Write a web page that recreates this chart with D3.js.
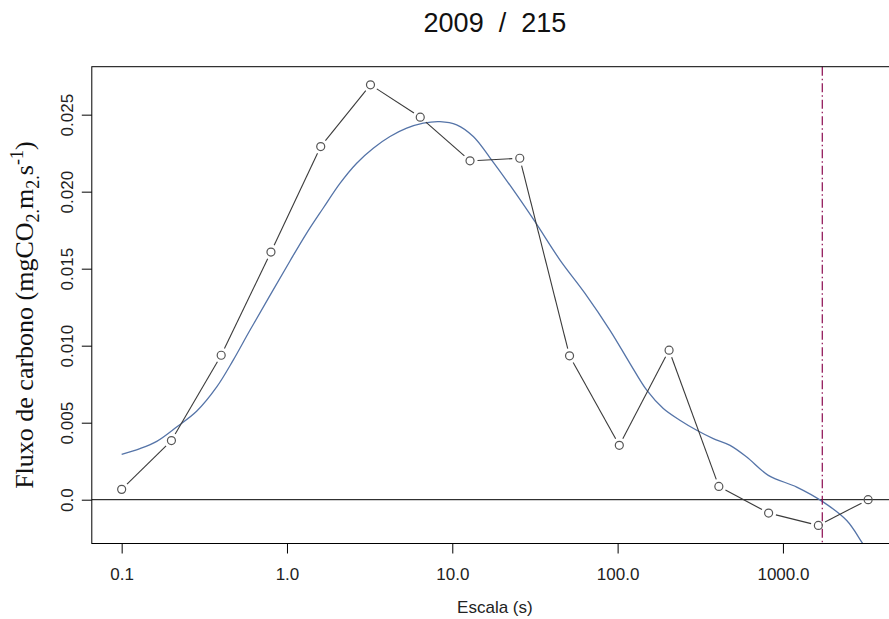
<!DOCTYPE html>
<html>
<head>
<meta charset="utf-8">
<script src="https://cdn.jsdelivr.net/npm/d3@7"></script>
<style>
  html, body { margin: 0; padding: 0; background: #fff; }
  svg { display: block; }
  text { font-family: "Liberation Sans", Arial, sans-serif; }
</style>
</head>
<body>
<svg id="chart" width="889" height="619"></svg>
<script>
// ---- data ----
const scales = [0.1, 0.2, 0.4, 0.8, 1.6, 3.2, 6.4, 12.8, 25.6, 51.2, 102.4, 204.8, 409.6, 819.2, 1638.4, 3276.8];
const fluxValues = [0.00067, 0.00384, 0.00938, 0.01608, 0.02293, 0.02694, 0.02484, 0.02200, 0.02217, 0.00934, 0.00353, 0.00971, 0.00086, -0.00087, -0.00167, 0.00000];

const smoothScales = [0.1, 0.129, 0.163, 0.215, 0.284, 0.376, 0.473, 0.597, 1.043, 1.316, 1.658, 2.092, 2.641, 3.327, 4.2, 5.299, 6.677, 8.427, 10.63, 13.4, 16.91, 23.39, 31.64, 44.83, 63.49, 89.95, 118.9, 150, 189, 238, 301, 379, 479, 604, 816, 1212, 1730, 2432, 2998, 3865];
const smoothValues = [0.00295, 0.00332, 0.00379, 0.00472, 0.00574, 0.00732, 0.00906, 0.0110, 0.01550, 0.01731, 0.01894, 0.02054, 0.02185, 0.02282, 0.02358, 0.02412, 0.02445, 0.02455, 0.02434, 0.02358, 0.0222, 0.02011, 0.01805, 0.01556, 0.0134, 0.0110, 0.00884, 0.00711, 0.00592, 0.00516, 0.00451, 0.00397, 0.00353, 0.00277, 0.00158, 0.00082, -0.00011, -0.00135, -0.00276, -0.0047];

const cutoffScale = 1730;
const xTicks = [0.1, 1, 10, 100, 1000];
const xTickLabels = ["0.1", "1.0", "10.0", "100.0", "1000.0"];
const yTicks = [0, 0.005, 0.010, 0.015, 0.020, 0.025];
const yTickLabels = ["0.0", "0.005", "0.010", "0.015", "0.020", "0.025"];
const titleText = "2009  /  215";
const xLabel = "Escala (s)";

// ---- layout ----
const L = 91.8, R = 898, T = 66.7, B = 543.5;
const svg = d3.select("#chart");

const lo = Math.log10(d3.min(scales)), hi = Math.log10(d3.max(scales));
const px = 0.04 * (hi - lo);
const x = d3.scaleLog().domain([Math.pow(10, lo - px), Math.pow(10, hi + px)]).range([L, R]);
const yMin = d3.min(fluxValues), yMax = d3.max(fluxValues);
const py = 0.04 * (yMax - yMin);
const y = d3.scaleLinear().domain([yMin - py - 0.00003, yMax + py + 0.00003]).range([B, T]);

svg.append("defs").append("clipPath").attr("id", "plotclip")
  .append("rect").attr("x", L).attr("y", T).attr("width", R - L).attr("height", B - T);

// zero line
svg.append("line").attr("x1", L).attr("x2", R).attr("y1", y(0)).attr("y2", y(0))
  .attr("stroke", "#000").attr("stroke-width", 1);

// smooth curve
const smooth = smoothScales.map((s, i) => [s, smoothValues[i]]);
svg.append("path")
  .datum(smooth)
  .attr("clip-path", "url(#plotclip)")
  .attr("fill", "none")
  .attr("stroke", "#5574a8")
  .attr("stroke-width", 1.3)
  .attr("d", d3.line().x(d => x(d[0])).y(d => y(d[1])).curve(d3.curveCatmullRom.alpha(0.5)));

// cutoff line
svg.append("line")
  .attr("x1", x(cutoffScale)).attr("x2", x(cutoffScale))
  .attr("y1", T).attr("y2", B)
  .attr("stroke", "#8b0a50").attr("stroke-width", 1.2)
  .attr("stroke-dasharray", "9,3,1.5,3");

// points with gapped segments (type = "b")
const pts = scales.map((s, i) => [x(s), y(fluxValues[i])]);
const gap = 7.5;
const segs = [];
for (let i = 0; i < pts.length - 1; i++) {
  const [x1, y1] = pts[i], [x2, y2] = pts[i + 1];
  const dx = x2 - x1, dy = y2 - y1, len = Math.hypot(dx, dy);
  if (len > 2 * gap) {
    const ux = dx / len, uy = dy / len;
    segs.push([x1 + ux * gap, y1 + uy * gap, x2 - ux * gap, y2 - uy * gap]);
  }
}
svg.append("g").selectAll("line").data(segs).join("line")
  .attr("x1", d => d[0]).attr("y1", d => d[1]).attr("x2", d => d[2]).attr("y2", d => d[3])
  .attr("stroke", "#3a3a3a").attr("stroke-width", 1.1);
svg.append("g").selectAll("circle").data(pts).join("circle")
  .attr("cx", d => d[0]).attr("cy", d => d[1]).attr("r", 4)
  .attr("fill", "none").attr("stroke", "#555").attr("stroke-width", 1.2);

// box
svg.append("rect").attr("x", L).attr("y", T).attr("width", R - L).attr("height", B - T)
  .attr("fill", "none").attr("stroke", "#000").attr("stroke-width", 1);

// x axis
const xAxis = svg.append("g").attr("transform", `translate(0,${B})`)
  .call(d3.axisBottom(x).tickValues(xTicks).tickSize(10).tickPadding(0)
    .tickFormat((d, i) => xTickLabels[i]));
xAxis.select(".domain").remove();
xAxis.selectAll(".tick line").attr("stroke", "#000");
xAxis.selectAll(".tick text").attr("dy", null).attr("y", 36)
  .style("font-size", "17px").style("font-family", "'Liberation Sans', Arial, sans-serif").attr("fill", "#222");

// y axis
const yAxis = svg.append("g").attr("transform", `translate(${L},0)`)
  .call(d3.axisLeft(y).tickValues(yTicks).tickSize(10).tickFormat((d, i) => yTickLabels[i]));
yAxis.select(".domain").remove();
yAxis.selectAll(".tick line").attr("stroke", "#000");
yAxis.selectAll(".tick text")
  .attr("x", null).attr("dy", null).attr("text-anchor", "middle")
  .attr("transform", "translate(-19,0) rotate(-90)")
  .style("font-size", "17px").style("font-family", "'Liberation Sans', Arial, sans-serif").attr("fill", "#222");

// title
svg.append("text").attr("x", (L + R) / 2).attr("y", 32.3)
  .attr("text-anchor", "middle").style("font-size", "27px").style("white-space", "pre")
  .attr("fill", "#111").text(titleText);

// x label
svg.append("text").attr("x", (L + R) / 2).attr("y", 613)
  .attr("text-anchor", "middle").style("font-size", "17px").attr("fill", "#222").text(xLabel);

// y label (serif, with sub/superscripts)
const yl = svg.append("text")
  .attr("transform", `translate(33,${(T + B) / 2 + 10}) rotate(-90)`)
  .attr("text-anchor", "middle")
  .style("font-family", "'Liberation Serif', 'Times New Roman', serif")
  .style("font-size", "26px").attr("fill", "#111");
yl.append("tspan").text("Fluxo de carbono (mgCO");
yl.append("tspan").attr("dy", 6).style("font-size", "18px").text("2.");
yl.append("tspan").attr("dy", -6).text("m");
yl.append("tspan").attr("dy", 6).style("font-size", "18px").text("2.");
yl.append("tspan").attr("dy", -6).text("s");
yl.append("tspan").attr("dy", -10).style("font-size", "18px").text("-1");
yl.append("tspan").attr("dy", 10).text(")");
</script>
</body>
</html>
